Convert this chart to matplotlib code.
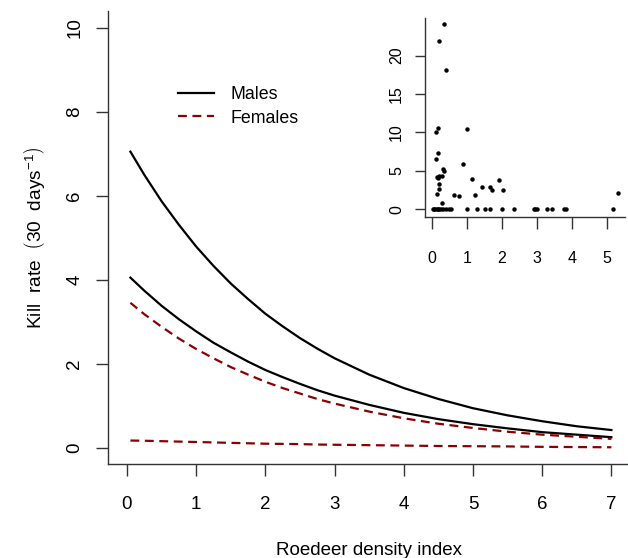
import matplotlib
matplotlib.use("Agg")
import matplotlib.pyplot as plt

plt.rcParams["font.family"] = ["Liberation Sans", "DejaVu Sans"]
plt.rcParams["mathtext.fontset"] = "custom"
plt.rcParams["mathtext.rm"] = "Liberation Sans"
plt.rcParams["mathtext.it"] = "Liberation Sans:italic"

# fitted kill rate curves
density = [0.05, 0.25, 0.5, 0.75, 1.0, 1.25, 1.5, 1.75, 2.0, 2.25, 2.5, 2.75, 3.0,
           3.5, 4.0, 4.5, 5.0, 5.5, 6.0, 6.5, 7.0]
males_high = [7.05, 6.50, 5.87, 5.31, 4.79, 4.33, 3.91, 3.54, 3.19, 2.89, 2.61, 2.36, 2.13,
              1.74, 1.42, 1.16, 0.94, 0.77, 0.63, 0.51, 0.42]
males_low = [4.05, 3.74, 3.38, 3.06, 2.77, 2.50, 2.27, 2.05, 1.85, 1.68, 1.52, 1.37, 1.24,
             1.02, 0.83, 0.68, 0.56, 0.46, 0.37, 0.31, 0.25]
females_high = [3.45, 3.18, 2.88, 2.60, 2.35, 2.13, 1.92, 1.74, 1.57, 1.42, 1.29, 1.16, 1.05,
                0.86, 0.70, 0.57, 0.47, 0.38, 0.31, 0.26, 0.21]
females_low = [0.17, 0.165, 0.155, 0.145, 0.135, 0.125, 0.115, 0.105, 0.095, 0.09, 0.085, 0.075, 0.07,
               0.06, 0.05, 0.04, 0.035, 0.03, 0.02, 0.015, 0.01]

# observed kill rates (inset)
obs_x = [0.36, 0.22, 0.40, 0.12, 0.19, 1.02, 0.19, 0.12, 0.90, 0.31, 0.36, 0.14, 0.21, 0.28, 0.18,
         1.16, 1.93, 1.44, 1.65, 1.73, 2.02, 0.22, 0.22, 0.16, 0.64, 0.77, 1.23, 0.28, 5.30,
         0.03, 0.07, 0.10, 0.14, 0.18, 0.22, 0.26, 0.31, 0.41, 0.48, 0.55, 1.01, 1.30, 1.52,
         1.65, 2.01, 2.36, 2.91, 2.95, 2.99, 3.28, 3.42, 3.77, 3.82, 5.16]
obs_y = [24.1, 21.9, 18.1, 10.0, 10.6, 10.4, 7.3, 6.5, 5.9, 5.25, 5.0, 4.25, 4.3, 4.3, 4.1,
         3.9, 3.8, 2.9, 2.9, 2.45, 2.5, 3.3, 2.7, 1.95, 1.9, 1.7, 1.8, 0.8, 2.1,
         0, 0, 0, 0, 0, 0, 0, 0, 0, 0, 0, 0, 0, 0,
         0, 0, 0, 0, 0, 0, 0, 0, 0, 0, 0]

main_xticks = [0, 1, 2, 3, 4, 5, 6, 7]
main_yticks = [0, 2, 4, 6, 8, 10]
inset_xticks = [0, 1, 2, 3, 4, 5]
inset_yticks = [0, 5, 10, 15, 20]

axis_col = "#333333"
female_col = "#8B0000"


def style_axes(ax, size, xpad, ypad, xlen, ylen):
    for side in ["top", "right"]:
        ax.spines[side].set_visible(False)
    for side in ["left", "bottom"]:
        ax.spines[side].set_color(axis_col)
        ax.spines[side].set_linewidth(1.0)
    ax.tick_params(axis="x", direction="out", length=xlen, width=1.0, color=axis_col,
                   labelsize=size, pad=xpad)
    ax.tick_params(axis="y", direction="out", length=ylen, width=1.0, color=axis_col,
                   labelsize=size, pad=ypad, labelrotation=90)
    for lab in ax.get_yticklabels():
        lab.set_verticalalignment("center")


fig = plt.figure(figsize=(6.28, 5.58), dpi=100)

ax = fig.add_axes([0.1713, 0.1676, 0.8331, 0.8127])
ax.plot(density, males_high, color="black", lw=1.6, label="Males")
ax.plot(density, males_low, color="black", lw=1.6)
ax.plot(density, females_high, color=female_col, lw=1.6, dashes=(4, 2.5), label="Females")
ax.plot(density, females_low, color=female_col, lw=1.6, dashes=(4, 2.5))
ax.set_xlim(-0.28, 7.28)
ax.set_ylim(-0.4, 10.4)
ax.set_xticks(main_xticks)
ax.set_yticks(main_yticks)
style_axes(ax, 13.5, 14, 9, 8.5, 8.5)
ax.set_xlabel("Roedeer density index", fontsize=13.5, labelpad=21)
ax.set_ylabel(r"Kill  rate  $\left(30\ \ \mathrm{days}^{-1}\right)$", fontsize=13.8, labelpad=14)

ax.legend(loc="upper left", bbox_to_anchor=(178 / 628, 1 - 86 / 558),
          bbox_transform=fig.transFigure, frameon=False, fontsize=12.8,
          handlelength=2.05, handletextpad=0.9, labelspacing=0.37, borderpad=0,
          borderaxespad=0)

inset = fig.add_axes([0.6768, 0.6117, 0.3183, 0.3568])
inset.plot(obs_x, obs_y, "o", color="black", ms=3.2, mec="none")
inset.set_xlim(-0.19, 5.51)
inset.set_ylim(-0.96, 24.96)
inset.set_xticks(inset_xticks)
inset.set_yticks(inset_yticks)
style_axes(inset, 11.5, 16, 8, 8.5, 7.2)

fig.savefig("out.png", dpi=100)
